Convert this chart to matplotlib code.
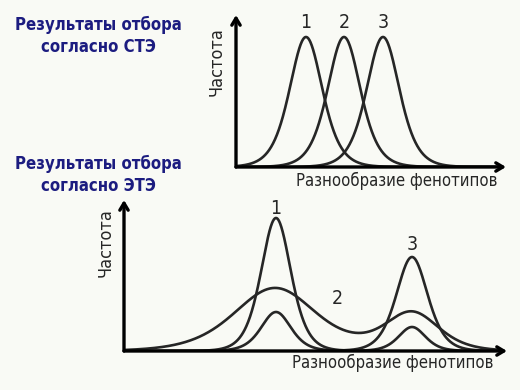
import numpy as np
import matplotlib
matplotlib.use('Agg')
import matplotlib.pyplot as plt

# peak parameters (units ~ pixels from the axis origin)
# top panel: three shifted bell curves
top_centers = [70, 108, 147]
top_heights = [130, 130, 130]
top_widths = [22, 22, 22]
top_labels = ['1', '2', '3']

# bottom panel: three two-humped curves, (center, height, width) per hump
bot_curve_a = [(152, 133, 20), (288, 24, 18)]
bot_curve_b = [(152, 39, 20), (288, 94, 21)]
bot_curve_c = [(151, 63, 55), (288, 38, 36)]
bot_label_pos = {'1': (152, 143), '2': (213, 53), '3': (288, 106)}

title_top = 'Результаты отбора\nсогласно СТЭ'
title_bot = 'Результаты отбора\nсогласно ЭТЭ'
xlabel = 'Разнообразие фенотипов'
ylabel = 'Частота'

bg = '#f9faf5'
navy = '#1c1c80'
ink = '#262626'
narrow = ['DejaVu Sans']


def bell(x, c, h, w):
    return h / np.cosh((x - c) / w) ** 2


def draw_axes(ax, xmax, ymax):
    ax.set_xlim(0, xmax)
    ax.set_ylim(0, ymax)
    for s in ax.spines.values():
        s.set_visible(False)
    ax.set_xticks([])
    ax.set_yticks([])
    ax.patch.set_alpha(0)
    kw = dict(arrowstyle='->,head_length=0.5,head_width=0.3', lw=2.4, color='black',
              shrinkA=0, shrinkB=0)
    ax.annotate('', xy=(1, 0), xytext=(0, 0), xycoords='axes fraction', arrowprops=kw)
    ax.annotate('', xy=(0, 1), xytext=(0, 0), xycoords='axes fraction', arrowprops=kw)


fig = plt.figure(figsize=(5.2, 3.9), dpi=100, facecolor=bg)

# top panel
ax1 = fig.add_axes([236/520, 1-167/390, 270/520, 152/390])
draw_axes(ax1, 270, 152)
x = np.linspace(0, 262, 800)
for c, h, w, lab in zip(top_centers, top_heights, top_widths, top_labels):
    ax1.plot(x, bell(x, c, h, w), color=ink, lw=1.9)
    ax1.text(c, h + 15, lab, ha='center', va='center', fontsize=14,
             family=narrow, stretch='condensed', color=ink)

# bottom panel
ax2 = fig.add_axes([124/520, 1-351/390, 383/520, 151/390])
draw_axes(ax2, 383, 151)
x = np.linspace(0, 376, 1200)
for curve in (bot_curve_a, bot_curve_b, bot_curve_c):
    y = sum(bell(x, c, h, w) for c, h, w in curve)
    ax2.plot(x, y, color=ink, lw=1.9)
for lab, (px, py) in bot_label_pos.items():
    ax2.text(px, py, lab, ha='center', va='center', fontsize=14,
             family=narrow, stretch='condensed', color=ink)

# axis labels
lab_kw = dict(ha='center', va='center', fontsize=12, family=narrow,
              stretch='condensed', color=ink)
fig.text(397/520, 1-181/390, xlabel, **lab_kw)
fig.text(393/520, 1-363/390, xlabel, **lab_kw)
lab_kw['fontsize'] = 13
fig.text(217/520, 1-62/390, ylabel, rotation=90, **lab_kw)
fig.text(106/520, 1-243/390, ylabel, rotation=90, **lab_kw)

# titles
tit_kw = dict(ha='center', va='center', fontsize=12, family=narrow,
              stretch='condensed', weight='bold', color=navy, linespacing=1.25)
fig.text(98/520, 1-36/390, title_top, **tit_kw)
fig.text(98/520, 1-175/390, title_bot, **tit_kw)

fig.savefig('out.png', dpi=100, facecolor=bg)
